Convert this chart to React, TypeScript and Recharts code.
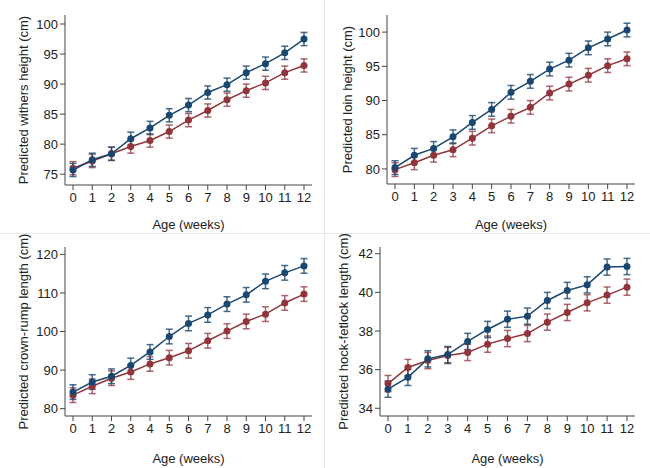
import React from "react"
import { ErrorBar, Line, LineChart, XAxis, YAxis } from "recharts"

const weeks = [0, 1, 2, 3, 4, 5, 6, 7, 8, 9, 10, 11, 12]

const withersBlue = [75.7, 77.4, 78.4, 80.9, 82.7, 84.8, 86.5, 88.6, 89.9, 91.9, 93.4, 95.2, 97.5]
const withersRed = [76.0, 77.2, 78.4, 79.6, 80.6, 82.1, 84.0, 85.6, 87.4, 88.9, 90.2, 91.9, 93.1]
const withersBlueErr = [1.1, 1.1, 1.1, 1.1, 1.1, 1.1, 1.1, 1.1, 1.1, 1.1, 1.1, 1.1, 1.1]
const withersRedErr = [1.1, 1.1, 1.1, 1.1, 1.1, 1.1, 1.1, 1.1, 1.1, 1.1, 1.1, 1.1, 1.1]
const withersTicks = [75, 80, 85, 90, 95, 100]

const loinBlue = [80.2, 82.0, 83.0, 84.7, 86.8, 88.7, 91.2, 92.8, 94.6, 95.9, 97.7, 99.0, 100.3]
const loinRed = [79.9, 80.9, 82.0, 82.8, 84.5, 86.3, 87.7, 89.0, 91.1, 92.4, 93.7, 95.1, 96.1]
const loinBlueErr = [1.0, 1.0, 1.0, 1.0, 1.0, 1.0, 1.0, 1.0, 1.0, 1.0, 1.0, 1.0, 1.0]
const loinRedErr = [1.0, 1.0, 1.0, 1.0, 1.0, 1.0, 1.0, 1.0, 1.0, 1.0, 1.0, 1.0, 1.0]
const loinTicks = [80, 85, 90, 95, 100]

const crownBlue = [84.3, 86.9, 88.4, 91.2, 94.7, 98.7, 102.1, 104.3, 107.1, 109.5, 113.0, 115.2, 117.0]
const crownRed = [83.5, 85.8, 87.9, 89.5, 91.6, 93.2, 95.0, 97.6, 100.1, 102.6, 104.5, 107.4, 109.7]
const crownBlueErr = [1.9, 1.9, 1.9, 1.9, 1.9, 1.9, 1.9, 1.9, 1.9, 1.9, 1.9, 1.9, 1.9]
const crownRedErr = [1.9, 1.9, 1.9, 1.9, 1.9, 1.9, 1.9, 1.9, 1.9, 1.9, 1.9, 1.9, 1.9]
const crownTicks = [80, 90, 100, 110, 120]

const hockBlue = [34.99, 35.6, 36.56, 36.78, 37.46, 38.08, 38.61, 38.77, 39.58, 40.1, 40.39, 41.31, 41.34]
const hockRed = [35.28, 36.11, 36.47, 36.73, 36.89, 37.32, 37.61, 37.87, 38.46, 38.96, 39.46, 39.86, 40.27]
const hockBlueErr = [0.42, 0.42, 0.42, 0.42, 0.42, 0.42, 0.42, 0.42, 0.42, 0.42, 0.42, 0.42, 0.42]
const hockRedErr = [0.42, 0.42, 0.42, 0.42, 0.42, 0.42, 0.42, 0.42, 0.42, 0.42, 0.42, 0.42, 0.42]
const hockTicks = [34, 36, 38, 40, 42]

const BLUE = "#1a476f"
const RED = "#90353b"
const FONT = "'Liberation Sans', Arial, sans-serif"
const FS = 13
const TEXT = "#222"

type PanelProps = {
  blue: number[]
  red: number[]
  blueErr: number[]
  redErr: number[]
  ticks: number[]
  domain: [number, number]
  label: string
  axisX: number
  right: number
  top: number
  bottom: number
  labelX: number
}

function Panel(p: PanelProps) {
  const data = weeks.map((w, i) => ({
    week: w,
    blue: p.blue[i],
    red: p.red[i],
    blueErr: p.blueErr[i],
    redErr: p.redErr[i],
  }))
  const plotMidX = (p.axisX + p.right) / 2
  const plotMidY = (p.top + p.bottom) / 2
  return (
    <LineChart
      width={325}
      height={234}
      data={data}
      margin={{ top: p.top, right: 325 - p.right, left: 0, bottom: 0 }}
      style={{ fontFamily: FONT }}
    >
      <XAxis
        type="number"
        dataKey="week"
        domain={[0, 12]}
        ticks={weeks}
        interval={0}
        padding={{ left: 8, right: 8 }}
        height={234 - p.bottom}
        tickSize={5}
        tickMargin={3}
        stroke="#444"
        tick={{ fill: TEXT, fontSize: FS, fontFamily: FONT }}
        label={() => (
          <text x={plotMidX} y={229} textAnchor="middle" fontSize={FS} fontFamily={FONT} fill={TEXT}>
            Age (weeks)
          </text>
        )}
      />
      <YAxis
        type="number"
        domain={p.domain}
        allowDataOverflow
        ticks={p.ticks}
        interval={0}
        width={p.axisX}
        tickSize={5}
        tickMargin={2}
        stroke="#444"
        tick={{ fill: TEXT, fontSize: FS, fontFamily: FONT }}
        label={() => (
          <text
            x={p.labelX}
            y={plotMidY}
            transform={`rotate(-90 ${p.labelX} ${plotMidY})`}
            textAnchor="middle"
            dominantBaseline="central"
            fontSize={FS}
            fontFamily={FONT}
            fill={TEXT}
          >
            {p.label}
          </text>
        )}
      />
      <Line
        dataKey="red"
        stroke={RED}
        strokeWidth={1.5}
        dot={{ r: 3.5, fill: RED, stroke: "none" }}
        isAnimationActive={false}
      >
        <ErrorBar dataKey="redErr" width={3.5} strokeWidth={1.5} stroke={RED} strokeOpacity={0.75} direction="y" />
      </Line>
      <Line
        dataKey="blue"
        stroke={BLUE}
        strokeWidth={1.5}
        dot={{ r: 3.5, fill: BLUE, stroke: "none" }}
        isAnimationActive={false}
      >
        <ErrorBar dataKey="blueErr" width={3.5} strokeWidth={1.5} stroke={BLUE} strokeOpacity={0.8} direction="y" />
      </Line>
    </LineChart>
  )
}

export default function App() {
  const box = (left: number, top: number): React.CSSProperties => ({
    position: "absolute",
    left,
    top,
    width: 325,
    height: 234,
  })
  return (
    <div style={{ position: "fixed", left: 0, top: 0, width: 650, height: 468, background: "#fff" }}>
      <div style={box(0, 0)}>
        <Panel
          blue={withersBlue}
          red={withersRed}
          blueErr={withersBlueErr}
          redErr={withersRedErr}
          ticks={withersTicks}
          domain={[73.2, 101.5]}
          label="Predicted withers height (cm)"
          axisX={65}
          right={312}
          top={15}
          bottom={185}
          labelX={23}
        />
      </div>
      <div style={box(325, 0)}>
        <Panel
          blue={loinBlue}
          red={loinRed}
          blueErr={loinBlueErr}
          redErr={loinRedErr}
          ticks={loinTicks}
          domain={[77.8, 102.5]}
          label="Predicted loin height (cm)"
          axisX={62}
          right={310}
          top={15}
          bottom={184}
          labelX={22}
        />
      </div>
      <div style={box(0, 234)}>
        <Panel
          blue={crownBlue}
          red={crownRed}
          blueErr={crownBlueErr}
          redErr={crownRedErr}
          ticks={crownTicks}
          domain={[78.1, 121.9]}
          label="Predicted crown-rump length (cm)"
          axisX={65}
          right={312}
          top={13}
          bottom={182}
          labelX={23}
        />
      </div>
      <div style={box(325, 234)}>
        <Panel
          blue={hockBlue}
          red={hockRed}
          blueErr={hockBlueErr}
          redErr={hockRedErr}
          ticks={hockTicks}
          domain={[33.6, 42.35]}
          label="Predicted hock-fetlock length (cm)"
          axisX={55}
          right={310}
          top={13}
          bottom={182}
          labelX={18}
        />
      </div>
      <div style={{ position: "absolute", left: 324, top: 0, width: 1, height: 468, background: "#e6e6e6" }} />
      <div style={{ position: "absolute", left: 0, top: 233, width: 650, height: 1, background: "#e6e6e6" }} />
    </div>
  )
}
